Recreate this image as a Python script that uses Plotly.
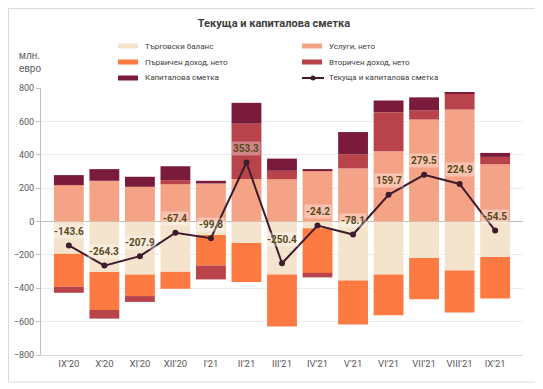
import plotly.graph_objects as go

months = ["IX'20", "X'20", "XI'20", "XII'20", "I'21", "II'21", "III'21",
          "IV'21", "V'21", "VI'21", "VII'21", "VIII'21", "IX'21"]
trade = [-193, -302, -318, -302, -81, -129, -318, -40, -353, -318, -218, -294, -212]
services = [218, 244, 208, 224, 228, 254, 254, 302, 318, 421, 611, 671, 343]
primary = [-198, -228, -129, -101, -183, -234, -311, -268, -264, -244, -248, -252, -250]
secondary = [-36, -52, -35, 24, -83, 332, 50, -27, 85, 234, 54, 97, 44]
capital = [60, 70, 60, 83, 16, 125, 73, 12, 133, 70, 79, 3, 24]
total = [-143.6, -264.3, -207.9, -67.4, -99.8, 353.3, -250.4, -24.2, -78.1,
         159.7, 279.5, 224.9, -54.5]
y_ticks = [-800, -600, -400, -200, 0, 200, 400, 600, 800]

names = ["Търговски баланс", "Услуги, нето", "Първичен доход, нето",
         "Вторичен доход, нето", "Капиталова сметка"]
series = [trade, services, primary, secondary, capital]
colors = ["#F5E4CD", "#F5A386", "#FD7B42", "#B8434A", "#7B1B3C"]
line_name = "Текуща и капиталова сметка"
line_color = "#3E1C2C"

NARROW = "Liberation Sans Narrow, Arial Narrow, Roboto, Liberation Sans, sans-serif"

# The page body has an 8px margin, so the figure is drawn 8px in from the
# window corner. Geometry below is given in window pixels and shifted.
OFF = 8
W, H = 543 - OFF, 389 - OFF
PLOT_L, PLOT_R, PLOT_T, PLOT_B = 41, 523, 88, 355   # window pixels
L, R, T, B = PLOT_L - OFF, W - (PLOT_R - OFF), PLOT_T - OFF, H - (PLOT_B - OFF)
PW, PH = W - L - R, H - T - B


def px(x):
    return (x - OFF - L) / PW


def py(y):
    return (H - B - (y - OFF)) / PH


fig = go.Figure()
for name, vals, col in zip(names, series, colors):
    fig.add_trace(go.Bar(x=months, y=vals, marker=dict(color=col, line=dict(width=0)),
                         name=name, showlegend=False, hoverinfo="skip"))

fig.add_trace(go.Scatter(x=months, y=total, mode="lines+markers", name=line_name,
                         line=dict(color=line_color, width=2), showlegend=False,
                         marker=dict(color=line_color, size=6), hoverinfo="skip"))

extra_shift = {"III'21": 10}
for m, v in zip(months, total):
    fig.add_annotation(x=m, y=v, text=f"<b>{v:.1f}</b>", showarrow=False,
                       yshift=14 + extra_shift.get(m, 0),
                       font=dict(family=NARROW, size=10, color="#5A4A1C"),
                       bgcolor="rgba(255,255,255,0.35)", borderpad=1)

# manual legend: 2 columns x 3 rows
legend_items = list(zip(names, colors)) + [(line_name, line_color)]
col_x = [118, 302]
row_y = [46, 62, 78]
for i, (name, col) in enumerate(legend_items):
    cx = col_x[i % 2]
    ry = row_y[i // 2]
    if name == line_name:
        fig.add_shape(type="line", xref="paper", yref="paper", x0=px(cx), x1=px(cx + 22),
                      y0=py(ry), y1=py(ry), line=dict(color=col, width=2))
        fig.add_shape(type="circle", xref="paper", yref="paper", x0=px(cx + 8.5),
                      x1=px(cx + 13.5), y0=py(ry + 2.5), y1=py(ry - 2.5),
                      fillcolor=col, line=dict(color=col, width=0))
    else:
        fig.add_shape(type="line", xref="paper", yref="paper", x0=px(cx), x1=px(cx + 20),
                      y0=py(ry), y1=py(ry), line=dict(color=col, width=5))
    fig.add_annotation(xref="paper", yref="paper", x=px(cx + 25), y=py(ry),
                       xanchor="left", yanchor="middle", text=name, showarrow=False,
                       font=dict(family=NARROW, size=8, color="#404040"))

# y-axis unit label
fig.add_annotation(xref="paper", yref="paper", x=px(17), y=py(48), xanchor="left",
                   yanchor="top", text="млн.<br>евро", showarrow=False, align="left",
                   font=dict(family="Liberation Sans, Arial, sans-serif", size=10,
                             color="#595959"))

# outer frame
fig.add_shape(type="rect", xref="paper", yref="paper", x0=px(8.5), x1=px(536),
              y0=py(382), y1=py(8.5), line=dict(color="#D9D9D9", width=1),
              fillcolor="rgba(0,0,0,0)", layer="below")

fig.update_layout(
    width=W, height=H,
    margin=dict(l=L, r=R, t=T, b=B, autoexpand=False),
    paper_bgcolor="white", plot_bgcolor="white",
    barmode="relative", bargap=0.16,
    showlegend=False,
    title=dict(text="<b>Текуща и капиталова сметка</b>", x=px(274), xref="paper",
               xanchor="center", y=1 - (23 - OFF) / H, yanchor="middle",
               font=dict(family=NARROW, size=11, color="#404040")),
    font=dict(family="Liberation Sans, Arial, sans-serif", color="#595959"),
    xaxis=dict(showgrid=False, showline=True, linecolor="#D9D9D9", linewidth=1,
               ticks="", tickfont=dict(family=NARROW, size=9.5, color="#595959"),
               fixedrange=True),
    yaxis=dict(range=[-800, 800], tickvals=y_ticks, showgrid=True,
               gridcolor="#EBEBEB", gridwidth=1, zeroline=True,
               zerolinecolor="#BFBFBF", zerolinewidth=1, showline=True,
               linecolor="#BFBFBF", ticks="outside", ticklen=4, tickcolor="#BFBFBF",
               tickfont=dict(family=NARROW, size=9, color="#595959"),
               fixedrange=True),
)

fig.write_html("out.html")
